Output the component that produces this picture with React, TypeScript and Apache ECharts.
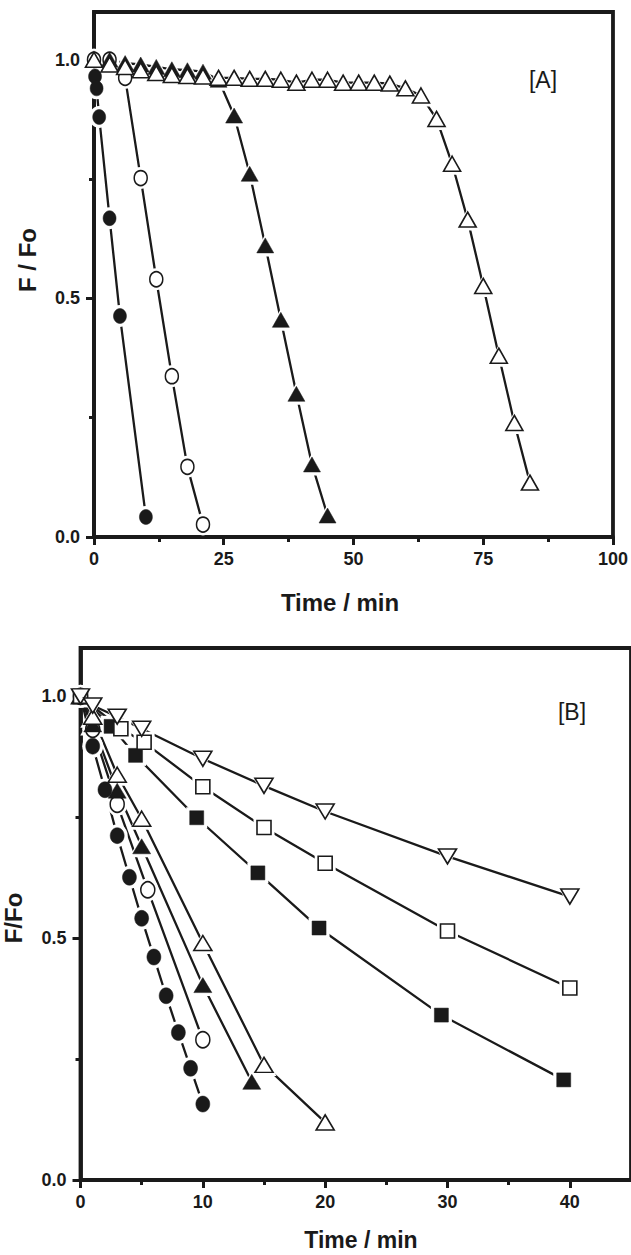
import React, { useEffect, useRef } from "react";
import * as echarts from "echarts";

// ---------------- Panel A data ----------------
const aFilledCircleX = [0, 0.2, 0.5, 1, 3, 5, 10];
const aFilledCircleY = [1.0, 0.965, 0.94, 0.88, 0.668, 0.463, 0.042];

const aOpenCircleX = [0, 3, 6, 9, 12, 15, 18, 21];
const aOpenCircleY = [1.0, 1.0, 0.962, 0.752, 0.54, 0.337, 0.147, 0.026];

const aFilledTriX = [0, 3, 6, 9, 12, 15, 18, 21, 24, 27, 30, 33, 36, 39, 42, 45];
const aFilledTriY = [1.0, 1.0, 0.993, 0.99, 0.985, 0.98, 0.978, 0.975, 0.958, 0.883, 0.761, 0.611, 0.455, 0.3, 0.152, 0.045];

const aOpenTriX = [0, 3, 6, 9, 12, 15, 18, 21, 24, 27, 30, 33, 36, 39, 42, 45, 48, 51, 54, 57, 60, 63, 66, 69, 72, 75, 78, 81, 84];
const aOpenTriY = [1.0, 0.99, 0.985, 0.978, 0.972, 0.968, 0.966, 0.965, 0.962, 0.962, 0.96, 0.96, 0.958, 0.952, 0.958, 0.958, 0.952, 0.952, 0.952, 0.95, 0.94, 0.925, 0.876, 0.782, 0.665, 0.526, 0.38, 0.239, 0.114];

// ---------------- Panel B data ----------------
const bFilledCircleX = [0, 1, 2, 3, 4, 5, 6, 7, 8, 9, 10];
const bFilledCircleY = [1.0, 0.897, 0.807, 0.712, 0.626, 0.541, 0.461, 0.381, 0.305, 0.231, 0.157];

const bOpenCircleX = [0, 1, 3, 5.5, 10];
const bOpenCircleY = [1.0, 0.932, 0.777, 0.6, 0.29];

const bFilledTriX = [0, 1, 3, 5, 10, 14];
const bFilledTriY = [1.0, 0.942, 0.805, 0.69, 0.403, 0.203];

const bOpenTriX = [0, 1, 3, 5, 10, 15, 20];
const bOpenTriY = [1.0, 0.958, 0.838, 0.747, 0.49, 0.238, 0.119];

const bFilledSqX = [0, 2.5, 4.5, 9.5, 14.5, 19.5, 29.5, 39.5];
const bFilledSqY = [1.0, 0.938, 0.878, 0.749, 0.635, 0.521, 0.341, 0.207];

const bOpenSqX = [0, 3.3, 5.2, 10, 15, 20, 30, 40];
const bOpenSqY = [1.0, 0.933, 0.905, 0.813, 0.729, 0.655, 0.515, 0.397];

const bDownTriX = [0, 1, 3, 5, 10, 15, 20, 30, 40];
const bDownTriY = [1.0, 0.981, 0.958, 0.933, 0.871, 0.815, 0.762, 0.669, 0.586];

// ---------------- Ticks ----------------
const aXMajor = [0, 25, 50, 75, 100];
const aXMinor = [12.5, 37.5, 62.5, 87.5];
const bXMajor = [0, 10, 20, 30, 40];
const bXMinor = [5, 15, 25, 35];
const yMajor = [0, 0.5, 1.0];
const yMinor = [0.25, 0.75];

const INK = "#1a1a1a";
const FONT = "Liberation Sans";

type Spec = {
  x: number[];
  y: number[];
  panel: number;
  symbol: string;
  size: [number, number];
  filled: boolean;
  rotate?: number;
};

const specs: Spec[] = [
  { x: aFilledCircleX, y: aFilledCircleY, panel: 0, symbol: "circle", size: [13, 15], filled: true },
  { x: aOpenCircleX, y: aOpenCircleY, panel: 0, symbol: "circle", size: [13, 15], filled: false },
  { x: aFilledTriX, y: aFilledTriY, panel: 0, symbol: "triangle", size: [17, 15], filled: true },
  { x: aOpenTriX, y: aOpenTriY, panel: 0, symbol: "triangle", size: [17, 15], filled: false },
  { x: bFilledCircleX, y: bFilledCircleY, panel: 1, symbol: "circle", size: [14, 16], filled: true },
  { x: bOpenCircleX, y: bOpenCircleY, panel: 1, symbol: "circle", size: [14, 16], filled: false },
  { x: bFilledTriX, y: bFilledTriY, panel: 1, symbol: "triangle", size: [18, 15], filled: true },
  { x: bOpenTriX, y: bOpenTriY, panel: 1, symbol: "triangle", size: [18, 15], filled: false },
  { x: bFilledSqX, y: bFilledSqY, panel: 1, symbol: "rect", size: [14, 14], filled: true },
  { x: bOpenSqX, y: bOpenSqY, panel: 1, symbol: "rect", size: [14, 14], filled: false },
  { x: bDownTriX, y: bDownTriY, panel: 1, symbol: "triangle", size: [18, 15], filled: false, rotate: 180 },
];

function buildSeries() {
  const lines: any[] = [];
  const halos: any[] = [];
  const marks: any[] = [];
  specs.forEach((s) => {
    const data = s.x.map((v, i) => [v, s.y[i]]);
    const ax = s.panel * 2;
    lines.push({
      type: "line",
      xAxisIndex: ax,
      yAxisIndex: ax,
      data,
      symbol: "none",
      showSymbol: false,
      lineStyle: { color: INK, width: 2.3 },
      z: 2,
      silent: true,
    });
    halos.push({
      type: "scatter",
      xAxisIndex: ax,
      yAxisIndex: ax,
      data,
      symbol: s.symbol,
      symbolRotate: s.rotate || 0,
      symbolSize: [s.size[0] + 7, s.size[1] + 7],
      itemStyle: { color: "#ffffff", opacity: 1 },
      z: 3,
      silent: true,
    });
    marks.push({
      type: "scatter",
      xAxisIndex: ax,
      yAxisIndex: ax,
      data,
      symbol: s.symbol,
      symbolRotate: s.rotate || 0,
      symbolSize: s.size,
      itemStyle: {
        color: s.filled ? INK : "#ffffff",
        borderColor: INK,
        borderWidth: s.filled ? 0.5 : 1.6,
        opacity: 1,
      },
      z: 4,
      silent: true,
    });
  });
  return [...lines, ...halos, ...marks];
}

const labelStyle = {
  color: INK,
  fontFamily: FONT,
  fontWeight: "bold" as const,
  fontSize: 18,
};

function majorX(gridIndex: number, max: number, ticks: number[]) {
  return {
    type: "value",
    gridIndex,
    min: 0,
    max,
    position: "bottom",
    axisLine: { show: true, onZero: false, lineStyle: { color: INK, width: 3.8 } },
    axisTick: { show: true, customValues: ticks, length: 8, lineStyle: { color: INK, width: 3 } },
    axisLabel: { ...labelStyle, customValues: ticks, margin: 13, formatter: (v: number) => String(v) },
    splitLine: { show: false },
  };
}
function minorX(gridIndex: number, max: number, ticks: number[]) {
  return {
    type: "value",
    gridIndex,
    min: 0,
    max,
    position: "bottom",
    axisLine: { show: false, onZero: false },
    axisTick: { show: true, customValues: ticks, length: 5, lineStyle: { color: INK, width: 3 } },
    axisLabel: { show: false },
    splitLine: { show: false },
  };
}
function majorY(gridIndex: number) {
  return {
    type: "value",
    gridIndex,
    min: 0,
    max: 1.1,
    position: "left",
    axisLine: { show: true, onZero: false, lineStyle: { color: INK, width: 3.8 } },
    axisTick: { show: true, customValues: yMajor, length: 8, lineStyle: { color: INK, width: 3 } },
    axisLabel: { ...labelStyle, customValues: yMajor, margin: 14, formatter: (v: number) => v.toFixed(1) },
    splitLine: { show: false },
  };
}
function minorY(gridIndex: number) {
  return {
    type: "value",
    gridIndex,
    min: 0,
    max: 1.1,
    position: "left",
    axisLine: { show: false, onZero: false },
    axisTick: { show: true, customValues: yMinor, length: 5, lineStyle: { color: INK, width: 3 } },
    axisLabel: { show: false },
    splitLine: { show: false },
  };
}

export default function App() {
  const ref = useRef<HTMLDivElement>(null);
  useEffect(() => {
    document.body.style.margin = "0";
    if (!ref.current) return;
    const chart = echarts.init(ref.current, undefined, { renderer: "svg" });
    const option: any = {
      animation: false,
      backgroundColor: "#ffffff",
      grid: [
        { left: 94, top: 12, width: 524, height: 525, show: true, borderColor: INK, borderWidth: 3.8, backgroundColor: "transparent" },
        { left: 80.5, top: 648, width: 558, height: 532, show: true, borderColor: INK, borderWidth: 3.8, backgroundColor: "transparent" },
      ],
      xAxis: [
        majorX(0, 100, aXMajor),
        minorX(0, 100, aXMinor),
        majorX(1, 45, bXMajor),
        minorX(1, 45, bXMinor),
      ],
      yAxis: [majorY(0), minorY(0), majorY(1), minorY(1)],
      series: buildSeries(),
      graphic: [
        {
          type: "text",
          x: 27,
          y: 260,
          rotation: Math.PI / 2,
          style: { text: "F / Fo", fill: INK, font: `bold 24px "${FONT}"`, textAlign: "center", textVerticalAlign: "middle" },
        },
        {
          type: "text",
          x: 340,
          y: 602,
          style: { text: "Time / min", fill: INK, font: `bold 24px "${FONT}"`, textAlign: "center", textVerticalAlign: "middle" },
        },
        {
          type: "text",
          x: 543,
          y: 80,
          style: { text: "[A]", fill: INK, font: `23px "${FONT}"`, textAlign: "center", textVerticalAlign: "middle" },
        },
        {
          type: "text",
          x: 13,
          y: 918,
          rotation: Math.PI / 2,
          style: { text: "F/Fo", fill: INK, font: `bold 24px "${FONT}"`, textAlign: "center", textVerticalAlign: "middle" },
        },
        {
          type: "text",
          x: 361,
          y: 1240,
          style: { text: "Time / min", fill: INK, font: `bold 23px "${FONT}"`, textAlign: "center", textVerticalAlign: "middle" },
        },
        {
          type: "text",
          x: 572,
          y: 712,
          style: { text: "[B]", fill: INK, font: `23px "${FONT}"`, textAlign: "center", textVerticalAlign: "middle" },
        },
      ],
    };
    chart.setOption(option);
    return () => chart.dispose();
  }, []);
  return <div ref={ref} style={{ width: 631, height: 1255 }} />;
}
